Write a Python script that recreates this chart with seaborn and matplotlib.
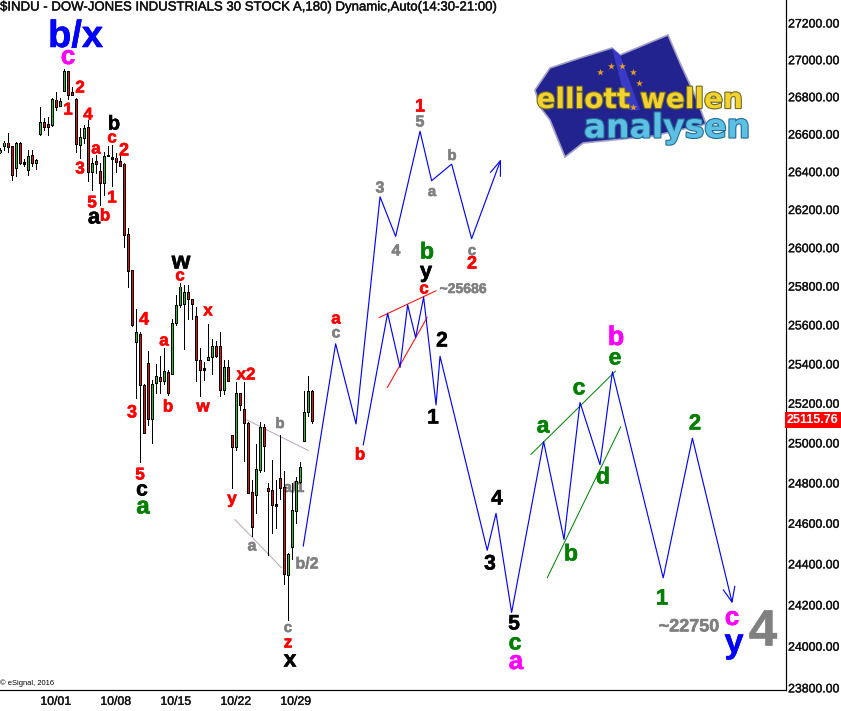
import numpy as np
import pandas as pd
import matplotlib
matplotlib.use("Agg")
import matplotlib.pyplot as plt
import matplotlib.patheffects as pe
from matplotlib.patches import Polygon
from matplotlib.ticker import FixedLocator, FixedFormatter, NullLocator
import seaborn as sns

# ---------- data ----------
opens = [26505, 26539, 26552, 26532, 26422, 26548, 26449, 26412, 26484, 26451, 26602, 26661, 26649, 26654, 26782, 26755,
         26835, 26936, 26825, 26785, 26547, 26582, 26633, 26401, 26451, 26398, 26345, 26484, 26473, 26472, 26451, 26440,
         26067, 25880, 25517, 25550, 25291, 25402, 25123, 25305, 25332, 25315, 25357, 25350, 25611, 25706, 25711, 25769,
         25732, 25644, 25418, 25377, 25421, 25436, 25488, 25488, 25271, 25382, 25039, 24984, 25251, 25170, 25099, 24751,
         24741, 24870, 25079, 24771, 24762, 24693, 24820, 24776, 24348, 24487, 24665, 24809, 25012, 25158, 25261]
closes = [26510, 26552, 26534, 26386, 26547, 26451, 26444, 26482, 26449, 26458, 26660, 26642, 26642, 26785, 26749, 26773,
          26936, 26812, 26814, 26550, 26579, 26627, 26401, 26445, 26445, 26344, 26482, 26487, 26470, 26454, 26433, 26070,
          25883, 25601, 25561, 25295, 25052, 25123, 25296, 25335, 25315, 25362, 25254, 25607, 25701, 25795, 25769, 25736,
          25711, 25423, 25372, 25374, 25433, 25488, 25446, 25271, 25382, 25318, 24984, 25251, 25195, 25103, 24754, 24586,
          24865, 25079, 24987, 24764, 24695, 24690, 24779, 24353, 24446, 24662, 24805, 24875, 25155, 25261, 25115.76]
highs = [26525, 26561, 26606, 26532, 26556, 26556, 26466, 26516, 26516, 26466, 26744, 26686, 26692, 26794, 26826, 26794,
         26952, 26939, 26853, 26796, 26633, 26651, 26678, 26472, 26489, 26445, 26502, 26534, 26543, 26498, 26489, 26445,
         26103, 25885, 25682, 25562, 25296, 25465, 25318, 25402, 25439, 25480, 25369, 25628, 25755, 25815, 25807, 25807,
         25732, 25691, 25483, 25411, 25607, 25526, 25517, 25561, 25419, 25419, 25041, 25306, 25251, 25306, 25108, 24817,
         24993, 25104, 25096, 24800, 24916, 24814, 25040, 24858, 24454, 24800, 24830, 24904, 25263, 25338, 25268]
lows = [26500, 26516, 26507, 26354, 26379, 26442, 26428, 26384, 26428, 26415, 26597, 26620, 26597, 26645, 26731, 26749,
        26834, 26790, 26807, 26502, 26475, 26552, 26352, 26305, 26393, 26226, 26279, 26484, 26326, 26396, 26433, 26002,
        25793, 25595, 25229, 24903, 25049, 25091, 25002, 25254, 25254, 25298, 25244, 25349, 25599, 25694, 25476, 25630,
        25630, 25315, 25239, 25318, 25419, 25350, 25433, 25239, 25248, 25315, 24774, 24965, 25167, 24908, 24751, 24536,
        24649, 24853, 24858, 24446, 24550, 24578, 24718, 24304, 24128, 24422, 24602, 24800, 25010, 25138, 25103]
bars = list(range(-1, 78))

wave_a_x = [74.9, 83.0, 88.1, 94.1, 98.0, 104.1, 107.0, 112.0, 117.0, 124.2]
wave_a_y = [24487, 25503, 25096, 26267, 26059, 26615, 26352, 26440, 26047, 26458]
head_a_x = [121.7, 124.2, 124.2]
head_a_y = [26396, 26458, 26375]
wave_b_x = [89.9, 96.0, 99.1, 101.0, 103.0, 105.0, 108.1, 109.1, 120.9, 123.1, 127.0, 135.0, 140.1, 144.1, 149.1, 152.2, 164.9, 172.2, 182.1]
wave_b_y = [24990, 25660, 25382, 25703, 25535, 25743, 25192, 25439, 24467, 24649, 24163, 25007, 24520, 25204, 24891, 25360, 24332, 25024, 24214]
head_b_x = [179.9, 182.1, 182.8]
head_b_y = [24274, 24214, 24291]

trend_red = [([93.8, 108.1], [25637, 25776]), ([95.9, 105.9], [25279, 25639])]
trend_green = [([131.8, 153.0], [24942, 25364]), ([135.9, 154.3], [24332, 25082])]
trend_grey = [([60.8, 76.2], [25116, 24962]), ([57.8, 69.5], [24619, 24381])]

price_ticks = list(range(23800, 27400, 200))
date_tick_bars = [13, 28, 43, 58, 73]
date_labels = ["10/01", "10/08", "10/15", "10/22", "10/29"]
last_price = 25115.76
title_text = "$INDU - DOW-JONES INDUSTRIALS 30 STOCK A,180) Dynamic,Auto(14:30-21:00)"

RED, BLK, GRN, GRY, MAG, BLU = "#ff0000", "#000000", "#007f00", "#808080", "#ff00ff", "#0000ff"
# text, centre x px, centre y px, colour, font px
labels = [
    ("b/x", 75.5, 37, BLU, 38), ("c", 68, 57, MAG, 26), ("2", 80, 88, RED, 17), ("1", 68, 110, RED, 17),
    ("4", 88, 115, RED, 17), ("a", 96, 149, RED, 17), ("b", 114, 124, BLK, 20), ("c", 112, 138, RED, 17),
    ("2", 124, 151, RED, 18), ("3", 80, 169, RED, 17), ("1", 112, 198, RED, 17), ("5", 92, 203, RED, 17),
    ("a", 94, 218, BLK, 22), ("b", 105, 216, RED, 17), ("w", 181, 262, BLK, 24), ("c", 180, 276, RED, 17),
    ("x", 208, 311, RED, 17), ("4", 144, 320, RED, 18), ("3", 132, 413, RED, 18), ("5", 140, 475, RED, 17),
    ("c", 142, 490, BLK, 21), ("a", 143, 507, GRN, 24), ("a", 164, 341, RED, 17), ("b", 168, 407, RED, 17),
    ("w", 203, 407, RED, 17), ("x2", 246, 375, RED, 17), ("y", 232, 499, RED, 17), ("b", 280, 424, GRY, 15),
    ("a", 252, 546, GRY, 16), ("b/2", 307, 564, GRY, 16), ("c", 288, 628, GRY, 15),
    ("z", 288, 643, RED, 17), ("x", 290, 660, BLK, 23), ("1", 420, 107, RED, 18), ("5", 420, 122, GRY, 16),
    ("3", 380, 188, GRY, 16), ("a", 432, 192, GRY, 15), ("b", 452, 156, GRY, 15), ("4", 396, 251, GRY, 16),
    ("c", 472, 251, GRY, 15), ("2", 472, 264, RED, 18), ("b", 427, 252, GRN, 23), ("y", 426, 272, BLK, 22),
    ("c", 424, 289, RED, 17), ("~25686", 463, 289, GRY, 14), ("a", 336, 319, RED, 17), ("c", 336, 333, GRY, 16),
    ("b", 360, 455, RED, 17), ("2", 442, 341, BLK, 21), ("1", 433, 418, BLK, 21), ("4", 497, 499, BLK, 21),
    ("3", 490, 564, BLK, 21), ("b", 616, 338, MAG, 27), ("e", 615, 358, GRN, 23), ("c", 579, 388, GRN, 23),
    ("a", 543, 426, GRN, 23), ("d", 603, 477, GRN, 23), ("b", 571, 554, GRN, 23), ("5", 514, 624, BLK, 21),
    ("c", 515, 643, GRN, 23), ("a", 516, 662, MAG, 26), ("2", 695, 424, GRN, 22), ("1", 662, 599, GRN, 22),
    ("~22750", 689, 627, GRY, 18), ("c", 732, 618, MAG, 26), ("y", 734, 644, BLU, 34), ("4", 763, 632, GRY, 51),
]

# ---------- figure ----------
W, H = 841, 711
sns.set_style("white")
plt.rcParams["font.family"] = ["Liberation Sans", "DejaVu Sans"]
px = 72 / 100
fig = plt.figure(figsize=(W / 100, H / 100), dpi=100, facecolor="white")
ax = fig.add_axes([0, 21 / H, 786 / W, 690 / H], facecolor="white")
ax.set_yscale("log")
ax.set_xlim(-0.917, 195.6)
ax.set_ylim(23790, 27326)

over = fig.add_axes([0, 0, 1, 1], facecolor="none")
over.set_xlim(0, W)
over.set_ylim(H, 0)
over.axis("off")

df = pd.DataFrame({"bar": bars, "open": opens, "close": closes, "high": highs, "low": lows})
up = df["close"] >= df["open"]
top = df[["open", "close"]].max(axis=1)
bottom = df[["open", "close"]].min(axis=1)
ax.vlines(df["bar"], df["low"], df["high"], color="black", lw=1 * px, zorder=3, antialiased=False)
# black outer body, then the coloured core
ax.vlines(df["bar"], bottom - 3, top + 3, color="black", lw=2.6 * px, zorder=4, antialiased=False)
ax.vlines(df["bar"], bottom + 2, np.maximum(top - 2, bottom + 2), color=np.where(up, "#22c022", "#e01010").tolist(),
          lw=1.0 * px, zorder=5, antialiased=False)

# partly hidden label sits under the candles
ax.text(294, 488, "a/1", transform=over.transData, color=GRY, fontsize=15 * px, fontweight="bold",
        ha="center", va="center", zorder=1, path_effects=[pe.withStroke(linewidth=0.4, foreground=GRY)])

for xs, ys in [(wave_a_x, wave_a_y), (head_a_x, head_a_y), (wave_b_x, wave_b_y), (head_b_x, head_b_y)]:
    sns.lineplot(x=xs, y=ys, sort=False, estimator=None, color="#0000ff", lw=1.15 * px, ax=ax, zorder=5)
for group, col, w in [(trend_red, "#ff0000", 1.0), (trend_green, "#008000", 1.0), (trend_grey, "#b8a8b8", 1.0)]:
    for xs, ys in group:
        sns.lineplot(x=xs, y=ys, sort=False, estimator=None, color=col, lw=w * px, ax=ax, zorder=2)

# axes furniture
for s in ["top", "left"]:
    ax.spines[s].set_visible(False)
for s in ["right", "bottom"]:
    ax.spines[s].set_linewidth(1.2 * px)
    ax.spines[s].set_color("black")
ax.yaxis.tick_right()
ax.yaxis.set_major_locator(FixedLocator(price_ticks))
ax.yaxis.set_major_formatter(FixedFormatter([f"{p:.2f}" for p in price_ticks]))
ax.yaxis.set_minor_locator(NullLocator())
ax.xaxis.set_major_locator(FixedLocator(date_tick_bars))
ax.xaxis.set_major_formatter(FixedFormatter(date_labels))
ax.tick_params(axis="y", length=0, pad=1.5, labelsize=12.3 * px, labelcolor="#111111", labelright=True, labelleft=False)
ax.tick_params(axis="x", length=0, pad=4.2, labelsize=12.3 * px, labelcolor="#111111")
ax.set_xlabel("")
ax.set_ylabel("")
for t in ax.get_xticklabels() + ax.get_yticklabels():
    t.set_path_effects([pe.withStroke(linewidth=0.25, foreground="#111111")])

ax.text(1.0014, last_price, f"{last_price:.2f}", transform=ax.get_yaxis_transform(), color="white",
        fontsize=12.6 * px, fontweight="bold", va="center", ha="left", zorder=8, clip_on=False,
        bbox=dict(boxstyle="square,pad=0.16", fc="#ff0000", ec="none"))

over.text(0, 7.5, title_text, fontsize=13.2 * px, color="#111111", va="center", ha="left",
          path_effects=[pe.withStroke(linewidth=0.3, foreground="#111111")])
over.text(0, 683, "\u00a9 eSignal, 2016", fontsize=7.5 * px, color="black", va="center", ha="left")

# logo
flag = [(535, 90), (550, 68), (580, 58), (612, 48), (620, 55), (668, 35), (680, 63), (697, 100), (706, 124),
        (653, 136), (583, 143), (565, 157), (550, 120), (540, 107)]
over.add_patch(Polygon(flag, closed=True, fc="#23238f", ec="#a0a0c8", lw=1.2, zorder=1))
over.add_patch(Polygon([(612, 48), (620, 55), (640, 110), (628, 110)], closed=True, fc="#3a3ac8", ec="none", zorder=1))
star_x = [600, 611, 622, 633, 639, 633]
star_y = [72, 66, 66, 72, 83, 107]
over.scatter(star_x, star_y, marker="*", s=28, color="#e8a020", linewidths=0, zorder=2)
over.text(640, 100, "elliott wellen", family="DejaVu Sans", fontweight="bold", fontsize=28 * px, color="#f2d22e",
          ha="center", va="center", zorder=3, path_effects=[pe.withStroke(linewidth=1.6, foreground="#6f6a20")])
over.text(667, 128, "analysen", family="DejaVu Sans", fontweight="bold", fontsize=33 * px, color="#5cc0e4",
          ha="center", va="center", zorder=3, path_effects=[pe.withStroke(linewidth=1.6, foreground="#246a92")])

# wave labels
for text, x, y, col, size in labels:
    over.text(x, y, text, color=col, fontsize=size * px, fontweight="bold", ha="center", va="center", zorder=6,
              path_effects=[pe.withStroke(linewidth=0.4, foreground=col)])

fig.savefig("out.png", dpi=100, facecolor="white")
